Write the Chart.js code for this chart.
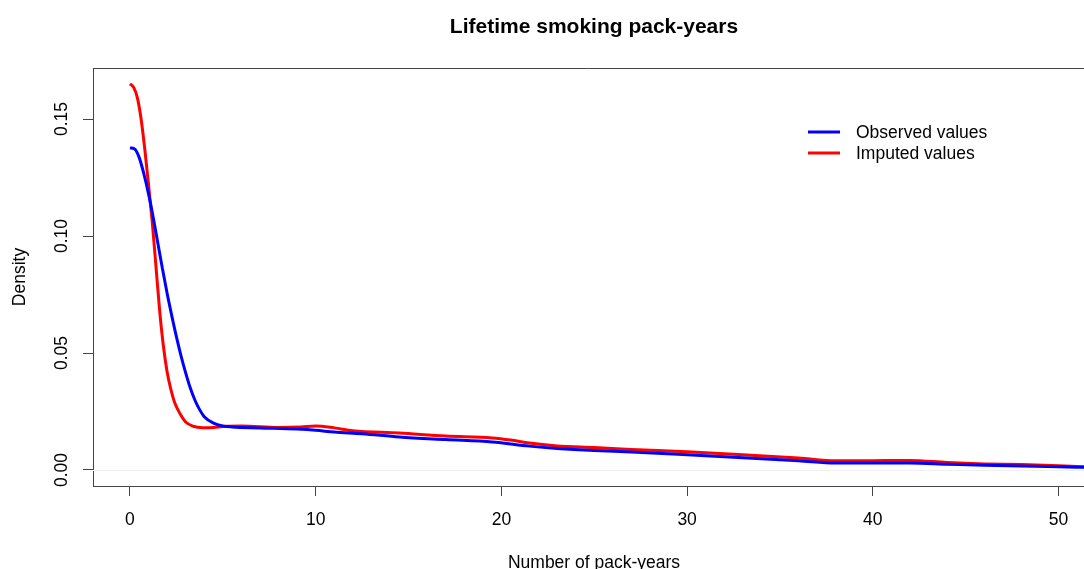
<!DOCTYPE html>
<html>
<head>
<meta charset="utf-8">
<script src="https://cdn.jsdelivr.net/npm/chart.js@4.4.1/dist/chart.umd.min.js"></script>
<style>
  html, body { margin: 0; padding: 0; background: #fff; }
  canvas { display: block; }
</style>
</head>
<body>
<canvas id="densityChart" width="1084" height="569"></canvas>
<script>
// density curves
const observedX = [0, 0.25, 0.5, 0.75, 1.0, 1.25, 1.5, 1.75, 2.0, 2.25, 2.5, 2.75, 3.0, 3.25, 3.5, 3.75, 4.0, 4.5, 5.0, 5.5, 7, 9, 10, 11, 12.5, 14.5, 17, 19.5, 21.5, 23, 25, 27, 30, 33, 36, 38, 40, 42, 44, 46, 48, 50, 51.5];
const observedY = [0.1376, 0.1372, 0.1335, 0.1265, 0.118, 0.108, 0.097, 0.086, 0.0755, 0.066, 0.057, 0.0488, 0.0415, 0.035, 0.0298, 0.0258, 0.0228, 0.020, 0.0188, 0.0184, 0.018, 0.0175, 0.017, 0.0162, 0.0155, 0.0141, 0.013, 0.012, 0.0102, 0.0092, 0.0083, 0.0077, 0.0065, 0.0052, 0.004, 0.003, 0.003, 0.003, 0.0025, 0.002, 0.0017, 0.0014, 0.0011];

const imputedX = [0, 0.2, 0.4, 0.6, 0.8, 1.0, 1.2, 1.4, 1.6, 1.8, 2.0, 2.2, 2.4, 2.7, 3.0, 3.4, 3.9, 4.5, 5, 6, 8, 9.2, 10, 11, 12, 14.5, 17, 19.5, 20.5, 21.5, 23, 25, 27, 30, 33, 36, 38, 40, 42, 44, 46, 48, 50, 51.5];
const imputedY = [0.165, 0.1635, 0.159, 0.150, 0.137, 0.122, 0.106, 0.087, 0.068, 0.053, 0.042, 0.0345, 0.029, 0.024, 0.0205, 0.0187, 0.0181, 0.0182, 0.0186, 0.0188, 0.0182, 0.0184, 0.0188, 0.018, 0.0168, 0.0158, 0.0145, 0.0137, 0.0128, 0.0115, 0.0103, 0.0096, 0.0088, 0.0078, 0.0065, 0.0051, 0.0039, 0.004, 0.0041, 0.0032, 0.0026, 0.0023, 0.0018, 0.0013];

const seriesLabels = ["Observed values", "Imputed values"];
const xTickValues = [0, 10, 20, 30, 40, 50];
const yTickValues = [0, 0.05, 0.1, 0.15];
const yTickLabels = ["0.00", "0.05", "0.10", "0.15"];

const chartTitle = "Lifetime smoking pack-years";
const xTitle = "Number of pack-years";
const yTitle = "Density";

const FONT = "'Liberation Sans', Arial, sans-serif";
const AXIS = "#444";

function toPoints(xs, ys) {
  return xs.map((x, i) => ({ x: x, y: ys[i] }));
}

// R style extras: box, zero line, rotated y labels, titles, legend
const rStyle = {
  id: "rStyle",
  beforeDatasetsDraw(chart) {
    const ctx = chart.ctx;
    const y = chart.scales.y;
    const a = chart.chartArea;
    ctx.save();
    ctx.strokeStyle = "#f0f0f0";
    ctx.lineWidth = 1;
    const y0 = Math.round(y.getPixelForValue(0)) + 0.5;
    ctx.beginPath();
    ctx.moveTo(a.left, y0);
    ctx.lineTo(a.right, y0);
    ctx.stroke();
    ctx.restore();
  },
  afterDraw(chart) {
    const ctx = chart.ctx;
    const a = chart.chartArea;
    const y = chart.scales.y;
    ctx.save();
    // top of the box
    ctx.strokeStyle = AXIS;
    ctx.lineWidth = 1;
    ctx.beginPath();
    ctx.moveTo(a.left, a.top + 0.5);
    ctx.lineTo(a.right, a.top + 0.5);
    ctx.stroke();

    ctx.fillStyle = "#000";
    // y tick labels, rotated like R
    ctx.font = "17.5px " + FONT;
    ctx.textAlign = "center";
    ctx.textBaseline = "middle";
    yTickValues.forEach((v, i) => {
      ctx.save();
      ctx.translate(62, y.getPixelForValue(v));
      ctx.rotate(-Math.PI / 2);
      ctx.fillText(yTickLabels[i], 0, 0);
      ctx.restore();
    });

    // axis titles
    ctx.save();
    ctx.translate(20, (a.top + a.bottom) / 2);
    ctx.rotate(-Math.PI / 2);
    ctx.fillText(yTitle, 0, 0);
    ctx.restore();
    ctx.fillText(xTitle, 594, 563);

    // main title
    ctx.font = "bold 21px " + FONT;
    ctx.fillText(chartTitle, 594, 27);

    // legend
    ctx.font = "17.5px " + FONT;
    ctx.textAlign = "left";
    chart.data.datasets.forEach((ds, i) => {
      const ly = 132 + i * 21;
      ctx.strokeStyle = ds.borderColor;
      ctx.lineWidth = 3;
      ctx.beginPath();
      ctx.moveTo(808, ly);
      ctx.lineTo(840, ly);
      ctx.stroke();
      ctx.fillStyle = "#000";
      ctx.fillText(ds.label, 856, ly + 1);
    });
    ctx.restore();
  }
};

const ctx = document.getElementById("densityChart").getContext("2d");
new Chart(ctx, {
  type: "line",
  data: {
    datasets: [
      {
        label: seriesLabels[0],
        data: toPoints(observedX, observedY),
        borderColor: "#0000ff",
        borderWidth: 3,
        pointRadius: 0,
        fill: false,
        cubicInterpolationMode: "monotone"
      },
      {
        label: seriesLabels[1],
        data: toPoints(imputedX, imputedY),
        borderColor: "#ff0000",
        borderWidth: 3,
        pointRadius: 0,
        fill: false,
        cubicInterpolationMode: "monotone"
      }
    ]
  },
  options: {
    responsive: false,
    animation: false,
    layout: { padding: { top: 68, left: 0, right: 0, bottom: 0 } },
    plugins: {
      legend: { display: false },
      title: { display: false },
      tooltip: { enabled: false }
    },
    scales: {
      x: {
        type: "linear",
        min: -1.99,
        max: 51.37,
        afterBuildTicks: (s) => { s.ticks = xTickValues.map((v) => ({ value: v })); },
        afterFit: (s) => { s.height = 83; },
        grid: { drawOnChartArea: false, drawTicks: true, tickLength: 10, color: AXIS },
        border: { display: true, color: AXIS, width: 1 },
        ticks: {
          color: "#000",
          font: { family: FONT, size: 17.5 },
          padding: 14,
          maxRotation: 0,
          autoSkip: false
        }
      },
      y: {
        type: "linear",
        min: -0.00684,
        max: 0.1718,
        afterBuildTicks: (s) => { s.ticks = yTickValues.map((v) => ({ value: v })); },
        afterFit: (s) => { s.width = 93; },
        grid: { drawOnChartArea: false, drawTicks: true, tickLength: 10, color: AXIS },
        border: { display: true, color: AXIS, width: 1 },
        ticks: { display: false }
      }
    }
  },
  plugins: [rStyle]
});
</script>
</body>
</html>
